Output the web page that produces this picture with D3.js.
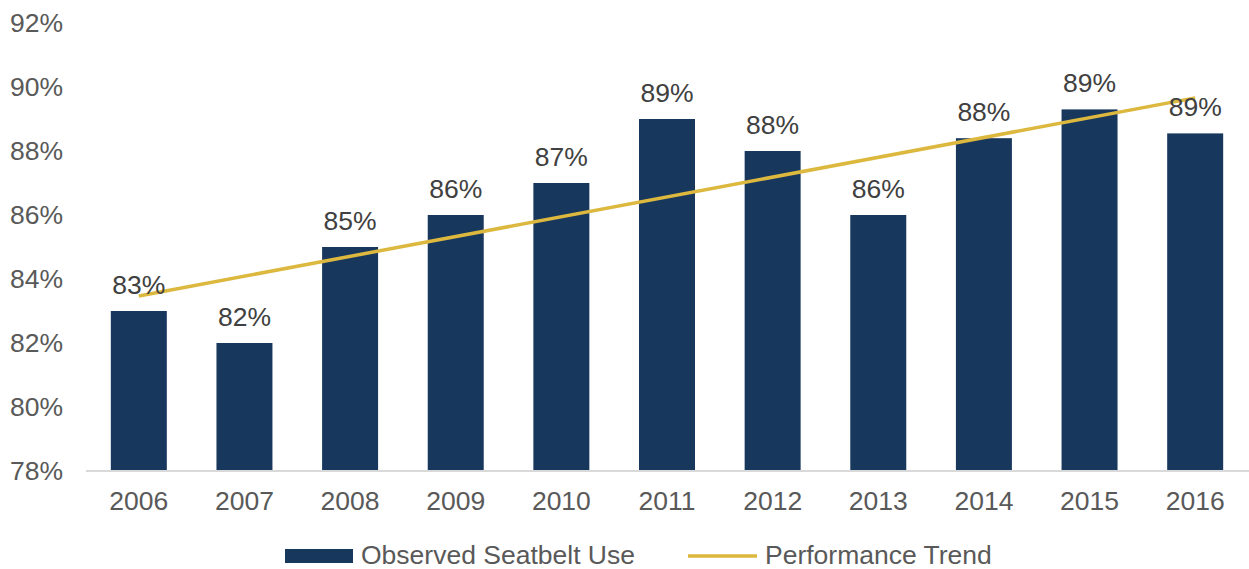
<!DOCTYPE html>
<html>
<head>
<meta charset="utf-8">
<script src="https://cdn.jsdelivr.net/npm/d3@7"></script>
<style>
  html, body { margin: 0; padding: 0; background: #fff; }
  svg { display: block; font-family: "Liberation Sans", Arial, sans-serif; }
</style>
</head>
<body>
<svg id="chart" width="1249" height="569"></svg>
<script>
// Observed seatbelt use by year (percent)
const years = ["2006", "2007", "2008", "2009", "2010", "2011", "2012", "2013", "2014", "2015", "2016"];
const seatbeltUse = [83.0, 82.0, 85.0, 86.0, 87.0, 89.0, 88.0, 86.0, 88.4, 89.3, 88.55];
// Performance trend line, first and last year
const trendYears = ["2006", "2016"];
const trendValues = [83.47, 89.66];
const yTicks = [78, 80, 82, 84, 86, 88, 90, 92];
const seriesNames = ["Observed Seatbelt Use", "Performance Trend"];

const barColor = "#18375d";
const trendColor = "#dcb83e";
const textColor = "#595959";
const fontSize = "26.5px";

const svg = d3.select("#chart");
const margin = { top: 23, right: 1, bottom: 98, left: 86 };
const width = 1249, height = 569;

const x = d3.scaleBand()
  .domain(years)
  .range([margin.left, width - margin.right])
  .paddingInner(0.47)
  .paddingOuter(0.235);

const y = d3.scaleLinear()
  .domain([78, 92])
  .range([height - margin.bottom, margin.top]);

// y-axis labels (no axis line)
const yAxis = d3.axisLeft(y)
  .tickValues(yTicks)
  .tickFormat(d => d + "%")
  .tickSize(0)
  .tickPadding(23);
const gy = svg.append("g")
  .attr("transform", `translate(${margin.left},0)`)
  .call(yAxis);
gy.select(".domain").remove();
gy.selectAll("text")
  .attr("fill", textColor)
  .style("font-size", fontSize)
  .style("font-family", "'Liberation Sans', Arial, sans-serif");

// bars
svg.append("g")
  .selectAll("rect")
  .data(years)
  .join("rect")
  .attr("x", d => x(d))
  .attr("width", x.bandwidth())
  .attr("y", (d, i) => y(seatbeltUse[i]))
  .attr("height", (d, i) => y(78) - y(seatbeltUse[i]))
  .attr("fill", barColor);

// x axis
const xAxis = d3.axisBottom(x).tickSize(0).tickPadding(20);
const gx = svg.append("g")
  .attr("transform", `translate(0,${y(78)})`)
  .call(xAxis);
gx.select(".domain")
  .attr("stroke", "#d9d9d9")
  .attr("stroke-width", 2)
  .attr("d", `M${margin.left},0H${width}`);
gx.selectAll("text")
  .attr("fill", textColor)
  .style("font-size", fontSize)
  .style("font-family", "'Liberation Sans', Arial, sans-serif");

// trend line
const line = d3.line()
  .x((d, i) => x(trendYears[i]) + x.bandwidth() / 2)
  .y(d => y(d));
svg.append("path")
  .datum(trendValues)
  .attr("d", line)
  .attr("fill", "none")
  .attr("stroke", trendColor)
  .attr("stroke-width", 3.5);

// value labels
svg.append("g")
  .selectAll("text")
  .data(years)
  .join("text")
  .attr("x", d => x(d) + x.bandwidth() / 2)
  .attr("y", (d, i) => y(seatbeltUse[i]) - 17)
  .attr("text-anchor", "middle")
  .attr("fill", "#404040")
  .style("font-size", fontSize)
  .text((d, i) => Math.round(seatbeltUse[i]) + "%");

// legend
const legend = svg.append("g");
legend.append("rect")
  .attr("x", 285).attr("y", 549)
  .attr("width", 68).attr("height", 14)
  .attr("fill", barColor);
legend.append("text")
  .attr("x", 361).attr("y", 564)
  .attr("fill", textColor)
  .style("font-size", fontSize)
  .text(seriesNames[0]);
legend.append("line")
  .attr("x1", 688).attr("x2", 757)
  .attr("y1", 556).attr("y2", 556)
  .attr("stroke", trendColor)
  .attr("stroke-width", 3.5);
legend.append("text")
  .attr("x", 765).attr("y", 564)
  .attr("fill", textColor)
  .style("font-size", fontSize)
  .text(seriesNames[1]);
</script>
</body>
</html>
